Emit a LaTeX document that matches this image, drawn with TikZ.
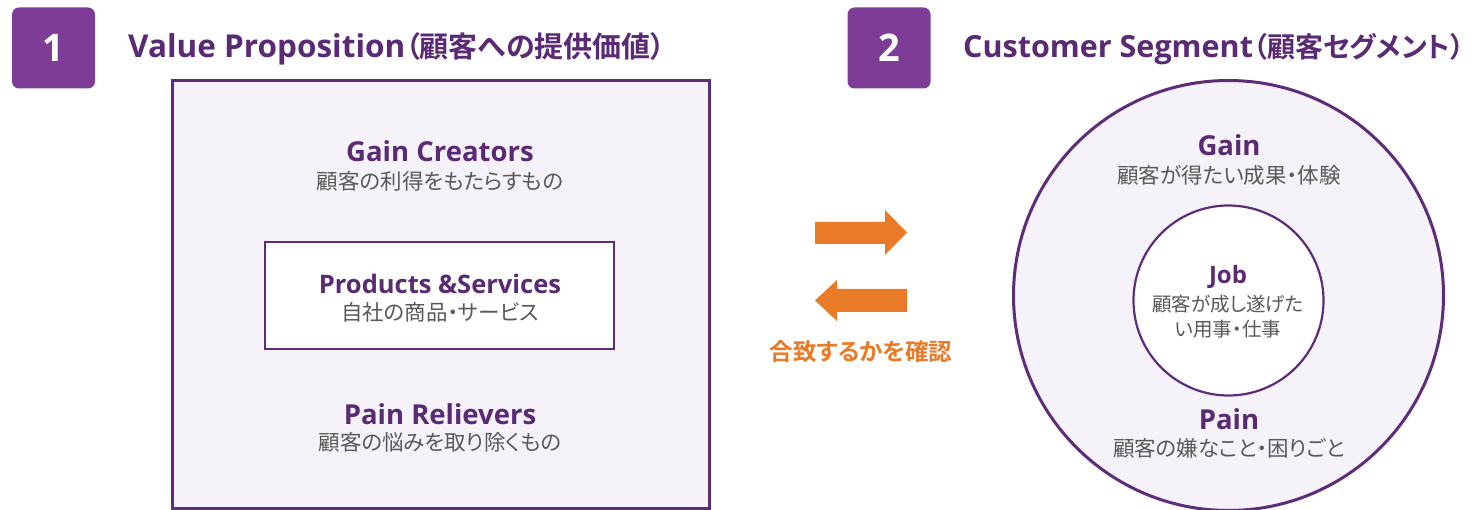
\documentclass[tikz,border=0pt]{standalone}
\usepackage{fontspec}
\setmainfont{Noto Sans CJK JP}[BoldFont={Noto Sans CJK JP Bold},RawFeature=+palt]
\newfontfamily\latfont{Open Sans}
\definecolor{badge}{HTML}{7E3C97}
\definecolor{purp}{HTML}{5B2A74}
\definecolor{edge}{HTML}{5E2C78}
\definecolor{lav}{HTML}{F5F2F9}
\definecolor{greytxt}{HTML}{595959}
\definecolor{orng}{HTML}{E97A27}
\newcommand{\fs}[1]{\fontsize{#1}{#1}\selectfont}
\begin{document}
\begin{tikzpicture}[x=1pt,y=-1pt,
  badgebox/.style={fill=badge,rounded corners=7pt,minimum width=83pt,minimum height=81pt,inner sep=0pt,text=white,font=\latfont\bfseries\fs{38}},
  titletxt/.style={anchor=west,text=purp,font=\bfseries\fs{29},inner sep=0pt},
  headtxt/.style={text=purp,font=\latfont\bfseries\fs{27.5},inner sep=0pt},
  subtxt/.style={text=greytxt,font=\fs{21.5},inner sep=0pt},
  arrowfill/.style={fill=orng}]
\useasboundingbox (0,0) rectangle (1484,510);
\fill[white] (0,0) rectangle (1484,510);
% badges and titles
\node[badgebox] (b1) at (53.5,48) {1};
\node[titletxt] (t1) at (128,49) {{\latfont\fs{31.5}Value Proposition}（顧客への提供価値）};
\node[badgebox] (b2) at (889,48) {2};
\node[titletxt,font=\bfseries\fs{28}] (t2) at (963,49) {{\latfont\fs{30.5}Customer Segment}（顧客セグメント）};
% value proposition box
\draw[edge,line width=3pt,fill=lav] (172,81) rectangle (709,508);
\node (gc) [headtxt] at (440,151) {Gain Creators};
\node (gcs) [subtxt] at (440,181) {顧客の利得をもたらすもの};
\node (ps) [draw=edge,line width=2.2pt,fill=white,minimum width=349pt,minimum height=107pt] at (439.5,295.5) {};
\node (pst) [headtxt,font=\latfont\bfseries\fs{25.5}] at (440,284) {Products \&Services};
\node (pss) [subtxt] at (440,312) {自社の商品・サービス};
\node (pr) [headtxt] at (440,414) {Pain Relievers};
\node (prs) [subtxt] at (440,442) {顧客の悩みを取り除くもの};
% arrows
\fill[arrowfill] (815,222) -- (885,222) -- (885,210) -- (907,232.5) -- (885,255) -- (885,244) -- (815,244) -- cycle;
\fill[arrowfill] (907,289) -- (837,289) -- (837,280) -- (815,300.5) -- (837,321) -- (837,312) -- (907,312) -- cycle;
\node (chk) [text=orng,font=\bfseries\fs{23.5},inner sep=0pt] at (861,352) {合致するかを確認};
% customer segment circles
\node (oc) [circle,draw=edge,line width=3pt,fill=lav,minimum size=430pt,inner sep=0pt] at (1228.5,295.5) {};
\node (ic) [circle,draw=edge,line width=2.2pt,fill=white,minimum size=190pt,inner sep=0pt] at (1228.5,300.5) {};
\node (gn) [headtxt] at (1229,145) {Gain};
\node (gns) [subtxt] at (1229,175) {顧客が得たい成果・体験};
\node (jb) [headtxt,font=\latfont\bfseries\fs{24}] at (1228,277) {Job};
\node (jbs1) [subtxt,font=\fs{19.5}] at (1228,304) {顧客が成し遂げた};
\node (jbs2) [subtxt,font=\fs{19.5}] at (1228,329) {い用事・仕事};
\node (pn) [headtxt] at (1229,419) {Pain};
\node (pns) [subtxt] at (1229,448) {顧客の嫌なこと・困りごと};
\end{tikzpicture}
\end{document}
